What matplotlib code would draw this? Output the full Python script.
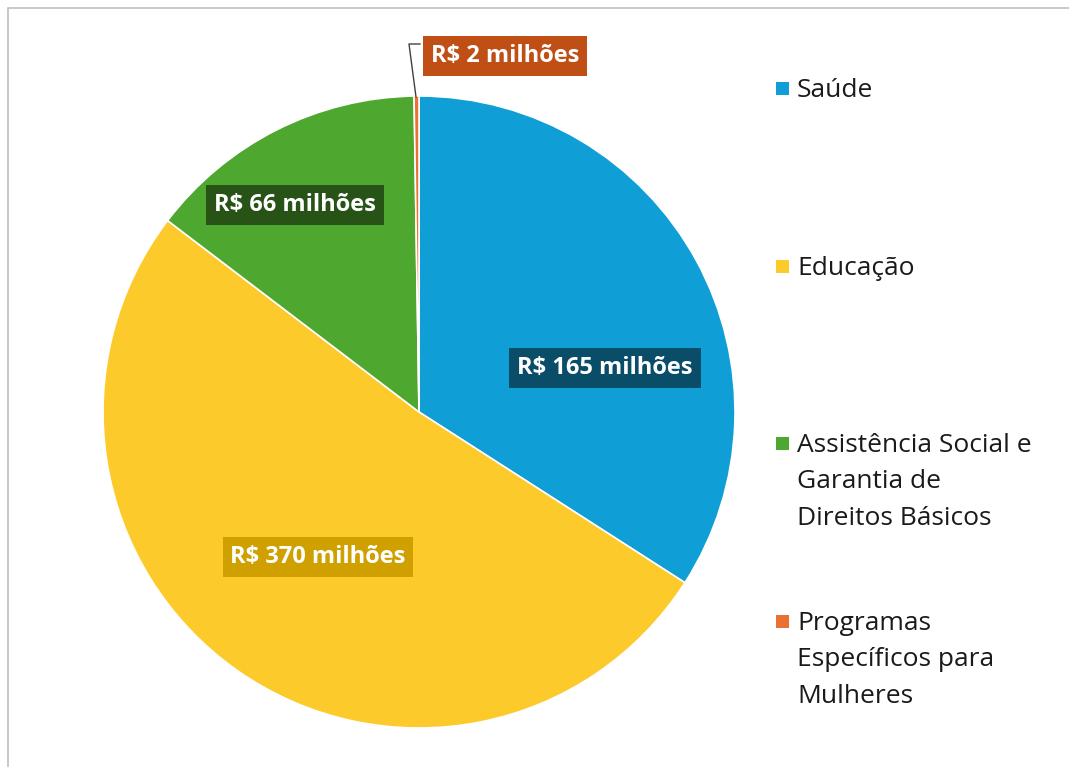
import matplotlib.pyplot as plt
import matplotlib.patches as patches

# data (slice shares, labels as printed)
categories = ['Saúde', 'Educação',
              'Assistência Social e\nGarantia de\nDireitos Básicos',
              'Programas\nEspecíficos para\nMulheres']
shares = [34.1, 51.3, 14.4, 0.25]
value_labels = ['R$ 165 milhões', 'R$ 370 milhões', 'R$ 66 milhões', 'R$ 2 milhões']
colors = ['#0f9ed5', '#fdca2b', '#4ea72e', '#e97132']
box_colors = ['#0a4d68', '#cfa000', '#275317', '#c04f15']

W, H = 1069, 767
fig = plt.figure(figsize=(W / 100, H / 100), dpi=100)
ax = fig.add_axes([0, 0, 1, 1])

font = 'Open Sans'

# pie, pixel coords with y flipped
cx, cy, r = 419, H - 412, 316
ax.pie(shares, colors=colors, startangle=90, counterclock=False,
       center=(cx, cy), radius=r, frame=True,
       wedgeprops=dict(edgecolor='white', linewidth=1.2))
ax.set_xlim(0, W)
ax.set_ylim(0, H)
ax.set_aspect('equal')
ax.axis('off')

# chart frame (only top and left visible in the crop)
frame = patches.Rectangle((8, -20), W + 40, H - 8 + 20, fill=False,
                          edgecolor='#bfbfbf', linewidth=1.2)
ax.add_patch(frame)

# data labels (positions as placed in the original)
label_pos = [(605, 368), (318, 557), (295, 205), (505, 56)]
for txt, (x, y), bc in zip(value_labels, label_pos, box_colors):
    ax.text(x, H - y, txt, ha='center', va='center', color='white',
            fontsize=17, fontweight='bold', family=font,
            bbox=dict(boxstyle='square,pad=0.33', facecolor=bc, edgecolor='none'))

# leader line for the small slice
ax.plot([416, 409, 420], [H - 97, H - 44, H - 44], color='#404040', linewidth=1)

# legend
leg_y = [88, 266, 443, 621]
for cat, c, y in zip(categories, colors, leg_y):
    ax.add_patch(patches.Rectangle((776, H - y - 6.5), 13, 13, facecolor=c,
                                   edgecolor='none'))
    ax.text(797, H - y + 10, cat, ha='left', va='top', color='#1a1a1a',
            fontsize=19, family=font, linespacing=1.6)

fig.savefig('out.png', dpi=100, facecolor='white')
